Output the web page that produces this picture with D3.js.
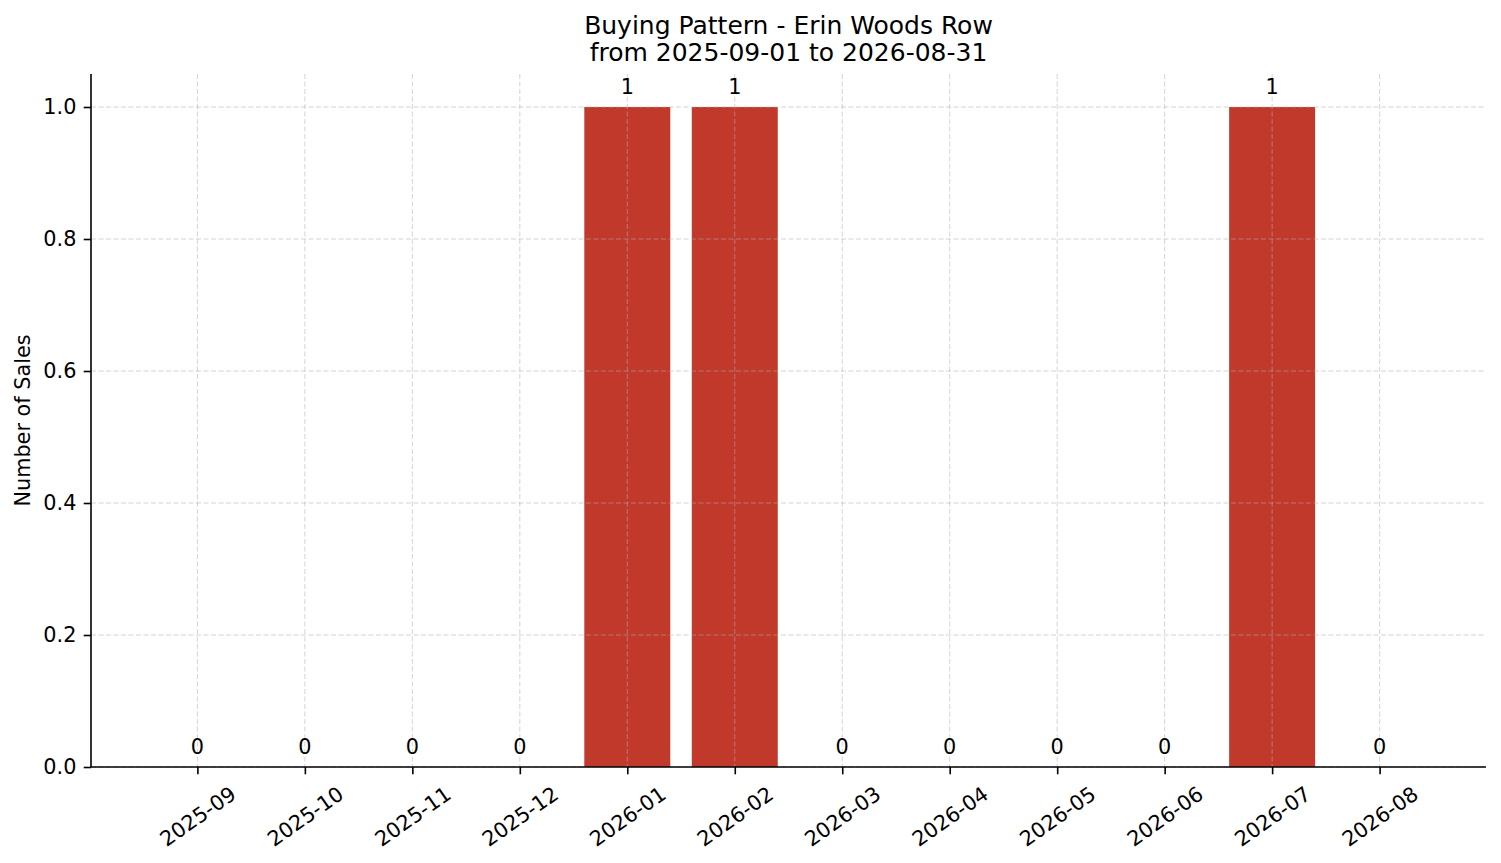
<!DOCTYPE html>
<html>
<head>
<meta charset="utf-8">
<script src="https://cdn.jsdelivr.net/npm/d3@7"></script>
<style>
  body { margin: 0; background: #fff; }
  svg { display: block; font-family: "DejaVu Sans", sans-serif; }
</style>
</head>
<body>
<div id="chart"></div>
<script>
// data
const months = ["2025-09","2025-10","2025-11","2025-12","2026-01","2026-02",
                "2026-03","2026-04","2026-05","2026-06","2026-07","2026-08"];
const sales = [0,0,0,0,1,1,0,0,0,0,1,0];
const yTicks = [0,0.2,0.4,0.6,0.8,1.0];
const titleLines = ["Buying Pattern - Erin Woods Row","from 2025-09-01 to 2026-08-31"];

const w = 1501, h = 863;
const padL = 91, padR = 1486, padT = 74, padB = 767;   // plot area edges
const fs = 20.8;          // tick / label font size
const tickLen = 7.3;
const barColor = "#c0392b";

const svg = d3.select("#chart").append("svg")
  .attr("width", w).attr("height", h);

// scales: categories by index, same margins as the picture
const x = d3.scaleLinear().domain([-0.99, months.length - 1 + 0.99]).range([padL, padR]);
const y = d3.scaleLinear().domain([0, 1.05]).range([padB, padT]);
const barW = x(0.8) - x(0);

// bars
svg.append("g").selectAll("rect")
  .data(sales)
  .enter().append("rect")
  .attr("x", (d, i) => x(i - 0.4))
  .attr("y", d => y(d))
  .attr("width", barW)
  .attr("height", d => y(0) - y(d))
  .attr("fill", barColor);

// grid on top of bars
const grid = svg.append("g")
  .attr("stroke", "#b0b0b0")
  .attr("stroke-opacity", 0.55)
  .attr("stroke-width", 1)
  .attr("stroke-dasharray", "5,2.5");
grid.selectAll(".gy").data(yTicks).enter().append("line")
  .attr("x1", padL).attr("x2", padR)
  .attr("y1", d => y(d)).attr("y2", d => y(d));
grid.selectAll(".gx").data(months).enter().append("line")
  .attr("x1", (d, i) => x(i)).attr("x2", (d, i) => x(i))
  .attr("y1", padT).attr("y2", padB);

// value labels
svg.append("g").selectAll("text")
  .data(sales)
  .enter().append("text")
  .attr("x", (d, i) => x(i))
  .attr("y", d => y(d) - 13)
  .attr("text-anchor", "middle")
  .attr("font-size", fs)
  .attr("fill", "#000")
  .text(d => d);

// y axis
const yAxis = d3.axisLeft(y)
  .tickValues(yTicks)
  .tickFormat(d3.format(".1f"))
  .tickSize(tickLen)
  .tickPadding(7.3);
const gy = svg.append("g")
  .attr("transform", "translate(" + padL + ",0)")
  .call(yAxis);
gy.select(".domain").attr("d", "M0," + padT + "V" + padB).attr("stroke-width", 1.6);
gy.selectAll(".tick line").attr("stroke-width", 1.6);
gy.selectAll(".tick text").attr("font-size", fs).attr("font-family", "DejaVu Sans").attr("fill", "#000");

// x axis
const xAxis = d3.axisBottom(x)
  .tickValues(d3.range(months.length))
  .tickFormat(i => months[i])
  .tickSize(tickLen);
const gx = svg.append("g")
  .attr("transform", "translate(0," + padB + ")")
  .call(xAxis);
gx.select(".domain").attr("d", "M" + padL + ",0H" + padR).attr("stroke-width", 1.6);
gx.selectAll(".tick line").attr("stroke-width", 1.6);

// rotated labels, bbox centred under the tick like matplotlib
const rot = 35, rad = rot * Math.PI / 180;
const textH = fs * 1.164;
gx.selectAll(".tick text")
  .attr("font-size", fs)
  .attr("font-family", "DejaVu Sans")
  .attr("fill", "#000")
  .attr("y", 0).attr("dy", null)
  .attr("text-anchor", "middle")
  .each(function() {
    const tw = this.getComputedTextLength();
    const H = tw * Math.sin(rad) + textH * Math.cos(rad);
    const cy = tickLen + 7.3 + H / 2;
    d3.select(this)
      .attr("transform", "translate(0," + cy + ") rotate(" + (-rot) + ")")
      .attr("dy", "0.346em");
  });

// y label
svg.append("text")
  .attr("transform", "translate(30," + ((padT + padB) / 2) + ") rotate(-90)")
  .attr("text-anchor", "middle")
  .attr("font-size", fs)
  .text("Number of Sales");

// title
svg.append("text")
  .attr("x", (padL + padR) / 2)
  .attr("text-anchor", "middle")
  .attr("font-size", 25)
  .selectAll("tspan")
  .data(titleLines)
  .enter().append("tspan")
  .attr("x", (padL + padR) / 2)
  .attr("y", (d, i) => 34 + i * 27.4)
  .text(d => d);
</script>
</body>
</html>
